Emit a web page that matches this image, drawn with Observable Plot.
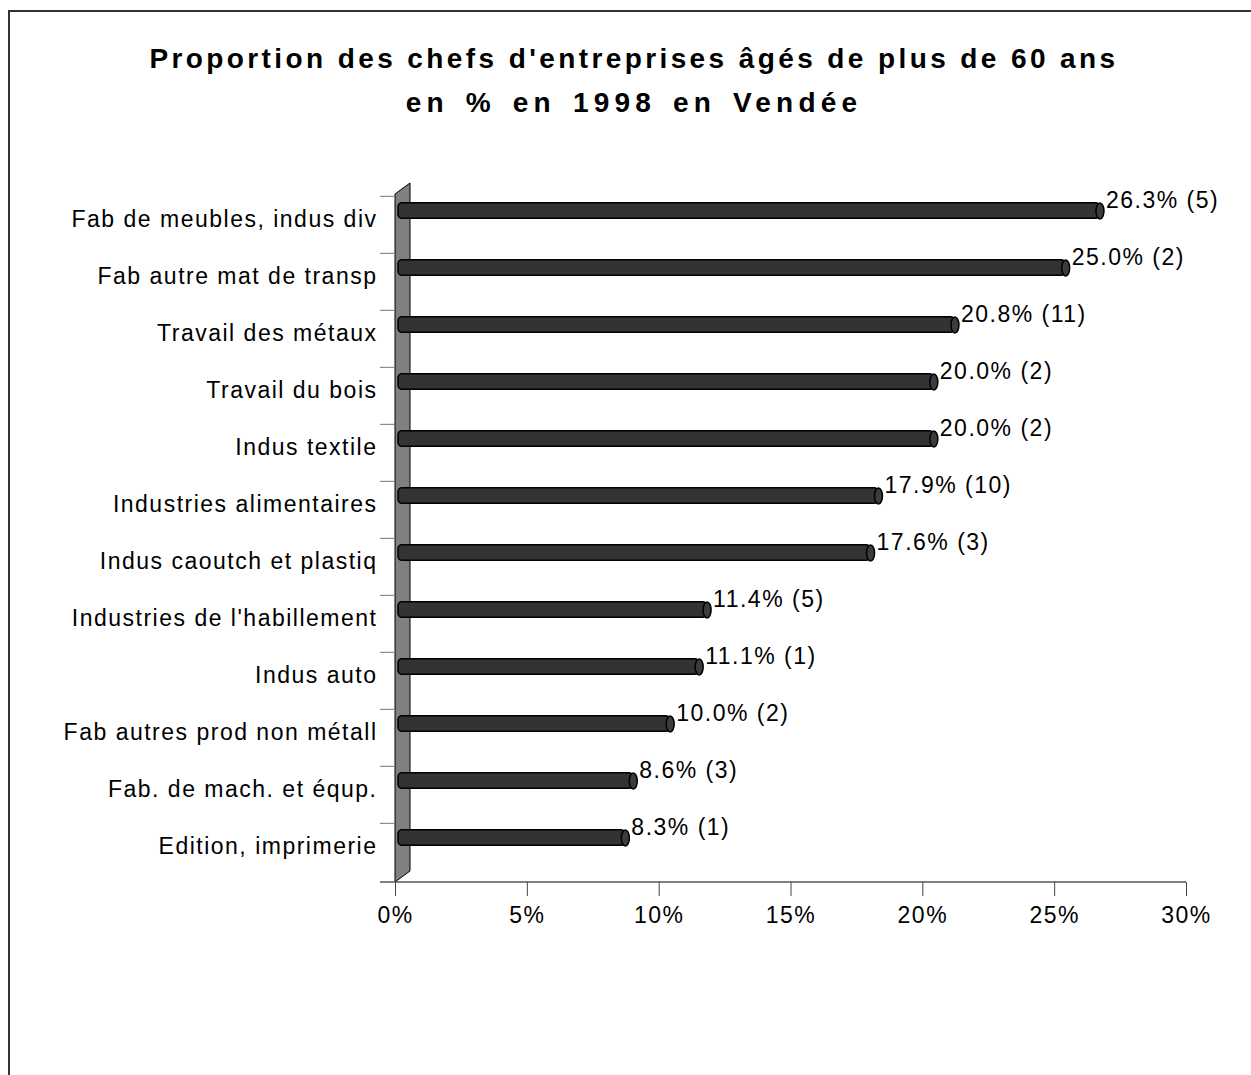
<!DOCTYPE html>
<html>
<head>
<meta charset="utf-8">
<script src="https://cdn.jsdelivr.net/npm/d3@7"></script>
<script src="https://cdn.jsdelivr.net/npm/@observablehq/plot@0.6"></script>
<style>
  html, body { margin: 0; padding: 0; background: #fff; overflow: hidden; }
  body { width: 1251px; height: 1075px; position: relative; font-family: "Liberation Sans", Arial, sans-serif; }
  #frame { position: absolute; left: 8px; top: 10px; width: 1260px; height: 1100px; border: 2px solid #333; box-sizing: border-box; }
  .tline { position: absolute; left: 9px; width: 1250px; text-align: center; font-weight: bold; font-size: 28px; line-height: 44px; color: #000; white-space: nowrap; }
  #t1 { top: 37px; letter-spacing: 3.4px; }
  #t2 { top: 81px; letter-spacing: 5.2px; word-spacing: 4px; }
  #chart { position: absolute; left: 0; top: 0; }
  #chart svg text { letter-spacing: 1.5px; }
</style>
</head>
<body>
<div id="frame"></div>
<div id="chart"></div>
<div id="t1" class="tline">Proportion des chefs d'entreprises âgés de plus de 60 ans</div>
<div id="t2" class="tline">en % en 1998 en Vendée</div>
<script>
const categories = [
  "Fab de meubles, indus div",
  "Fab autre mat de transp",
  "Travail des métaux",
  "Travail du bois",
  "Indus textile",
  "Industries alimentaires",
  "Indus caoutch et plastiq",
  "Industries de l'habillement",
  "Indus auto",
  "Fab autres prod non métall",
  "Fab. de mach. et équp.",
  "Edition, imprimerie"
];
const values = [26.3, 25.0, 20.8, 20.0, 20.0, 17.9, 17.6, 11.4, 11.1, 10.0, 8.6, 8.3];
const counts = [5, 2, 11, 2, 2, 10, 3, 5, 1, 2, 3, 1];
const xTicks = [0, 5, 10, 15, 20, 25, 30];

const data = categories.map((c, i) => ({
  cat: c,
  value: values[i],
  label: values[i].toFixed(1) + "% (" + counts[i] + ")"
}));

const W = 1251, H = 1075;
const mTop = 194, mBottom = 193, mLeft = 395, mRight = 65;
const bw = (H - mTop - mBottom) / categories.length;
const barH = 16;
const depthX = 11, depthY = -14;
const FS = 23;

const capSymbol = {
  draw(ctx) {
    const rx = 4, ry = barH / 2, k = 0.5523;
    ctx.moveTo(0, -ry);
    ctx.bezierCurveTo(k * rx, -ry, rx, -k * ry, rx, 0);
    ctx.bezierCurveTo(rx, k * ry, k * rx, ry, 0, ry);
    ctx.bezierCurveTo(-k * rx, ry, -rx, k * ry, -rx, 0);
    ctx.bezierCurveTo(-rx, -k * ry, -k * rx, -ry, 0, -ry);
    ctx.closePath();
  }
};

const wall = (index, scales, values, dims) => {
  const x0 = scales.x(0);
  const top = dims.marginTop, bottom = dims.height - dims.marginBottom;
  const g = d3.create("svg:g");
  g.append("polygon")
    .attr("points", [[x0, top], [x0 + 15, top - 11], [x0 + 15, bottom - 11], [x0, bottom]].map(p => p.join(",")).join(" "))
    .attr("fill", "#808080").attr("stroke", "#000").attr("stroke-width", 1);
  g.append("line")
    .attr("x1", x0 - 15).attr("x2", dims.width - dims.marginRight)
    .attr("y1", bottom).attr("y2", bottom)
    .attr("stroke", "#555").attr("stroke-width", 1.5);
  return g.node();
};

const chart = Plot.plot({
  width: W,
  height: H,
  marginTop: mTop,
  marginBottom: mBottom,
  marginLeft: mLeft,
  marginRight: mRight,
  style: { fontFamily: "'Liberation Sans', Arial, sans-serif", fontSize: FS + "px", background: "transparent", color: "#000", overflow: "visible" },
  x: { domain: [0, 30], label: null },
  y: { domain: categories, padding: 0, label: null },
  marks: [
    wall,
    Plot.axisY({ tickSize: 15, tickFormat: () => "", dy: -bw / 2, stroke: "#777", strokeOpacity: 1, label: null }),
    Plot.axisY({ tickSize: 0, tickPadding: 18, dy: -5, fontSize: FS, fill: "#000", label: null }),
    Plot.axisX({ ticks: xTicks, tickSize: 14, tickPadding: 10, tickFormat: d => d + "%", fontSize: FS, stroke: "#444", strokeOpacity: 1, fill: "#000", label: null }),
    Plot.barX(data, {
      x: "value", y: "cat",
      fill: "#333", stroke: "#000", strokeWidth: 1.5,
      insetTop: (bw - barH) / 2, insetBottom: (bw - barH) / 2,
      insetLeft: -8, rx: 4,
      dx: depthX, dy: depthY
    }),
    Plot.dot(data, {
      x: "value", y: "cat", symbol: capSymbol, r: 5,
      fill: "#3c3c3c", stroke: "#000", strokeWidth: 1.5,
      dx: depthX, dy: depthY
    }),
    Plot.text(data, {
      x: "value", y: "cat", text: "label",
      textAnchor: "start", dx: 17, dy: depthY - 10,
      fontSize: FS, fill: "#000"
    })
  ]
});
document.getElementById("chart").appendChild(chart);
</script>
</body>
</html>
